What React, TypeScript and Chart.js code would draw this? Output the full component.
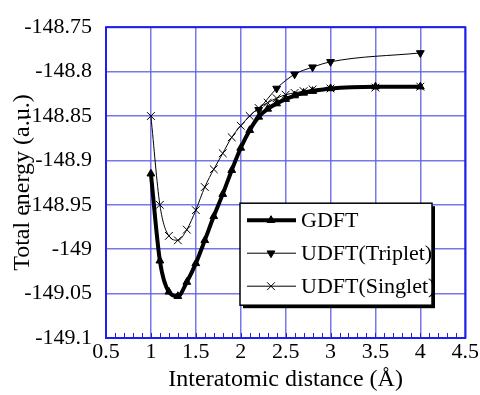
import React, { useEffect, useRef } from 'react';
import { Chart, registerables } from 'chart.js';

Chart.register(...registerables);

// ---- data ----
const distance = [1.0, 1.1, 1.2, 1.3, 1.4, 1.5, 1.6, 1.7, 1.8, 1.9, 2.0, 2.1, 2.2, 2.3, 2.4, 2.5, 2.6, 2.7, 2.8, 3.0, 3.5, 4.0];
const gdft = [-148.915, -149.013, -149.048, -149.053, -149.037, -149.016, -148.99, -148.963, -148.938, -148.911, -148.886, -148.866, -148.851, -148.842, -148.836, -148.831, -148.827, -148.824, -148.822, -148.819, -148.817, -148.817];

const distanceTriplet = [2.2, 2.4, 2.6, 2.8, 3.0, 4.0];
const udftTriplet = [-148.843, -148.819, -148.803, -148.795, -148.789, -148.779];

const distanceSinglet = [1.0, 1.1, 1.2, 1.3, 1.4, 1.5, 1.6, 1.7, 1.8, 1.9, 2.0, 2.1, 2.2, 2.3, 2.4, 2.5, 2.6, 2.7, 2.8, 3.0, 3.5, 4.0];
const udftSinglet = [-148.85, -148.95, -148.985, -148.99, -148.978, -148.956, -148.93, -148.91, -148.892, -148.874, -148.861, -148.85, -148.841, -148.835, -148.83, -148.826, -148.824, -148.822, -148.82, -148.819, -148.818, -148.817];

const seriesNames = ['GDFT', 'UDFT(Triplet)', 'UDFT(Singlet)'];

const xTickValues = [0.5, 1, 1.5, 2, 2.5, 3, 3.5, 4, 4.5];
const xTickLabels = ['0.5', '1', '1.5', '2', '2.5', '3', '3.5', '4', '4.5'];
const yTickValues = [-149.1, -149.05, -149, -148.95, -148.9, -148.85, -148.8, -148.75];
const yTickLabels = ['-149.1', '-149.05', '-149', '-148.95', '-148.9', '-148.85', '-148.8', '-148.75'];

const xTitle = 'Interatomic distance (Å)';
const yTitle = 'Total energy (a.u.)';

// ---- styles ----
const FONT = '"Liberation Serif", "Times New Roman", Times, Tinos, "DejaVu Serif", "Noto Serif", serif';
const GRID = 'rgba(95, 95, 232, 0.85)';
const AXIS = '#1e1ef0';

const toPoints = (xs: number[], ys: number[]) => xs.map((x, i) => ({ x, y: ys[i] }));

function drawMarker(ctx: CanvasRenderingContext2D, kind: string, x: number, y: number, r: number) {
  ctx.save();
  ctx.fillStyle = '#000';
  ctx.strokeStyle = '#000';
  ctx.lineWidth = 1;
  if (kind === 'up' || kind === 'down') {
    const s = kind === 'up' ? 1 : -1;
    ctx.beginPath();
    ctx.moveTo(x, y - s * r);
    ctx.lineTo(x + r * 0.866, y + s * r * 0.5);
    ctx.lineTo(x - r * 0.866, y + s * r * 0.5);
    ctx.closePath();
    ctx.fill();
    ctx.stroke();
  } else {
    const d = r * 0.7071;
    ctx.beginPath();
    ctx.moveTo(x - d, y - d);
    ctx.lineTo(x + d, y + d);
    ctx.moveTo(x + d, y - d);
    ctx.lineTo(x - d, y + d);
    ctx.stroke();
  }
  ctx.restore();
}

const decor = {
  id: 'decor',
  afterDraw(chart: any) {
    const { ctx, chartArea: a, scales } = chart;
    const xs = scales.x;
    ctx.save();
    // minor ticks on bottom axis
    ctx.strokeStyle = AXIS;
    ctx.lineWidth = 1;
    for (let i = 0; i <= 40; i++) {
      const v = 0.5 + i * 0.1;
      const px = Math.round(xs.getPixelForValue(v)) + 0.5;
      ctx.beginPath();
      ctx.moveTo(px, a.bottom);
      ctx.lineTo(px, a.bottom - 5);
      ctx.stroke();
    }
    // frame
    ctx.lineWidth = 2;
    ctx.strokeStyle = AXIS;
    ctx.strokeRect(a.left, a.top, a.right - a.left, a.bottom - a.top);

    // legend box
    const lx = a.left + 134;
    const ly = a.top + 176;
    const lw = 192;
    const lh = 102;
    ctx.fillStyle = '#000';
    ctx.fillRect(lx + 3, ly + 3, lw, lh);
    ctx.fillStyle = '#fff';
    ctx.fillRect(lx, ly, lw, lh);
    ctx.strokeStyle = '#000';
    ctx.lineWidth = 1.5;
    ctx.strokeRect(lx, ly, lw, lh);

    const rows = [
      { w: 4, m: 'up', r: 4.5 },
      { w: 1, m: 'down', r: 4.5 },
      { w: 1, m: 'x', r: 5.5 },
    ];
    ctx.font = `22px ${FONT}`;
    ctx.textBaseline = 'middle';
    ctx.textAlign = 'left';
    rows.forEach((row, i) => {
      const yy = ly + 17 + i * 33;
      ctx.strokeStyle = '#000';
      ctx.lineWidth = row.w;
      ctx.beginPath();
      ctx.moveTo(lx + 7, yy);
      ctx.lineTo(lx + 56, yy);
      ctx.stroke();
      drawMarker(ctx, row.m, lx + 31, yy, row.r);
      ctx.fillStyle = '#000';
      ctx.fillText(seriesNames[i], lx + 61, yy + 1);
    });
    ctx.restore();
  },
};

export default function App() {
  const ref = useRef<HTMLCanvasElement>(null);
  useEffect(() => {
    document.body.style.margin = '0';
    const chart = new Chart(ref.current as HTMLCanvasElement, {
      type: 'line',
      data: {
        datasets: [
          {
            label: seriesNames[0],
            data: toPoints(distance, gdft),
            borderColor: '#000',
            backgroundColor: '#000',
            borderWidth: 4,
            pointStyle: 'triangle',
            pointRadius: 4.5,
            pointBorderWidth: 1,
            cubicInterpolationMode: 'monotone',
          },
          {
            label: seriesNames[1],
            data: toPoints(distanceTriplet, udftTriplet),
            borderColor: '#000',
            backgroundColor: '#000',
            borderWidth: 1,
            pointStyle: 'triangle',
            pointRotation: 180,
            pointRadius: 4.5,
            pointBorderWidth: 1,
            cubicInterpolationMode: 'monotone',
          },
          {
            label: seriesNames[2],
            data: toPoints(distanceSinglet, udftSinglet),
            borderColor: '#000',
            backgroundColor: '#000',
            borderWidth: 1,
            pointStyle: 'crossRot',
            pointRadius: 5.5,
            pointBorderWidth: 1,
            cubicInterpolationMode: 'monotone',
          },
        ],
      } as any,
      options: {
        animation: false,
        responsive: false,
        maintainAspectRatio: false,
        layout: { padding: { top: 17, right: 14, left: 0, bottom: 0 } },
        plugins: { legend: { display: false }, tooltip: { enabled: false } },
        scales: {
          x: {
            type: 'linear',
            min: 0.5,
            max: 4.5,
            afterBuildTicks: (s: any) => {
              s.ticks = xTickValues.map((v) => ({ value: v }));
            },
            afterFit: (s: any) => {
              s.height = 57;
            },
            grid: { color: GRID, lineWidth: 1.5, drawTicks: false },
            border: { display: false },
            ticks: {
              padding: 1,
              color: '#000',
              autoSkip: false,
              maxRotation: 0,
              font: { family: FONT, size: 22 },
              callback: (_v: any, i: number) => xTickLabels[i],
            },
            title: {
              display: true,
              text: xTitle,
              color: '#000',
              font: { family: FONT, size: 24 },
              padding: { top: 0, bottom: 1 },
            },
          },
          y: {
            type: 'linear',
            min: -149.1,
            max: -148.75,
            afterBuildTicks: (s: any) => {
              s.ticks = yTickValues.map((v) => ({ value: v }));
            },
            afterFit: (s: any) => {
              s.width = 106;
            },
            grid: { color: GRID, lineWidth: 1.5, drawTicks: false },
            border: { display: false },
            ticks: {
              padding: 14,
              color: '#000',
              autoSkip: false,
              font: { family: FONT, size: 22 },
              callback: (_v: any, i: number) => yTickLabels[i],
            },
            title: {
              display: true,
              text: yTitle,
              color: '#000',
              font: { family: FONT, size: 24 },
              padding: { top: 8, bottom: 0 },
            },
          },
        },
      } as any,
      plugins: [decor],
    });
    return () => {
      chart.destroy();
    };
  }, []);
  return (
    <div style={{ width: 480, height: 395 }}>
      <canvas ref={ref} width={480} height={395} />
    </div>
  );
}
